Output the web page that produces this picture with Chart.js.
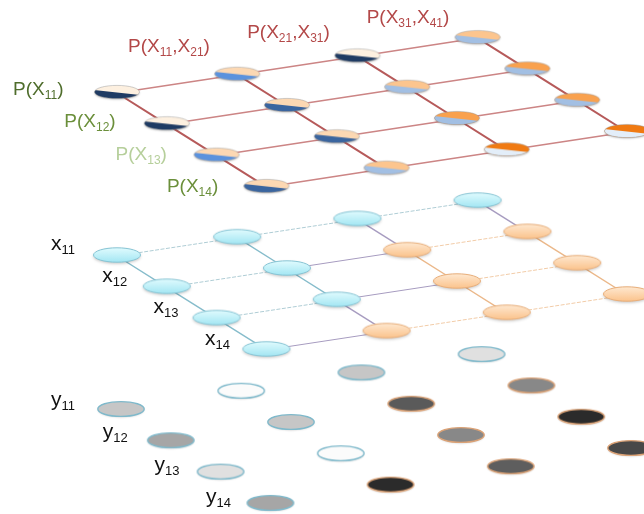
<!DOCTYPE html>
<html><head><meta charset="utf-8">
<script src="https://cdn.jsdelivr.net/npm/chart.js@4"></script>
<style>html,body{margin:0;padding:0;background:#fff;overflow:hidden}canvas{display:block}</style>
</head><body>
<canvas id="c" width="644" height="514"></canvas>
<script>
// ================= DATA =================
const rowIds = ['11', '12', '13', '14'];
const pairIds = [['11', '21'], ['21', '31'], ['31', '41']];
// top layer: shade level of upper (orange) half and lower (blue) half of each node
const topOrangeLevel = [
  [0, 1, 0, 2],
  [0, 1, 2, 3],
  [1, 1, 3, 3],
  [1, 2, 4, 4]];
const topBlueLevel = [
  [0, 2, 0, 3],
  [0, 1, 3, 3],
  [2, 1, 3, 3],
  [1, 3, 4, 4]];
// middle layer: hidden class of each node (0 = cyan, 1 = orange)
const midClass = [
  [0, 0, 0, 0],
  [0, 0, 1, 1],
  [0, 0, 1, 1],
  [0, 1, 1, 1]];
// bottom layer: grey value of each observation
const bottomGrey = [
  [198, 251, 198, 224],
  [166, 198, 90, 136],
  [224, 251, 136, 43],
  [166, 43, 94, 72]];

// ================= LAYOUT / STYLE =================
const STEP_COL = {x: 120.2, y: -18.3};
const STEP_ROW = {x: 49.8, y: 31.3};
const ORIGIN = {top: {x: 117, y: 93}, mid: {x: 117, y: 256}, bot: {x: 121, y: 410}};
const ORANGES = ['#fdf0e0', '#fcd8b3', '#fcc58e', '#f9a14e', '#f07a12'];
const BLUES = ['#1f3b63', '#3a659f', '#5b92dd', '#a2bfe3', '#e3eef9'];
const FONT = '"Liberation Sans", Arial, sans-serif';

const NR = rowIds.length, NC = topOrangeLevel[0].length;
function pos(layer, r, c) {
  const o = ORIGIN[layer];
  return {x: o.x + c * STEP_COL.x + r * STEP_ROW.x, y: o.y + c * STEP_COL.y + r * STEP_ROW.y};
}

function mkCanvas(w, h) { const cv = document.createElement('canvas'); cv.width = w; cv.height = h; return cv; }
function ellipsePath(g, cx, cy, rx, ry) { g.beginPath(); g.ellipse(cx, cy, rx, ry, 0, 0, Math.PI * 2); }

function topImage(oL, bL) {
  const W = 54, H = 20, cx = W / 2, cy = H / 2 - 1, rx = 22.5, ry = 6.6;
  const cv = mkCanvas(W, H), g = cv.getContext('2d');
  g.save();
  g.shadowColor = 'rgba(0,0,0,0.25)'; g.shadowBlur = 2; g.shadowOffsetY = 1;
  ellipsePath(g, cx, cy, rx, ry); g.fillStyle = ORANGES[oL]; g.fill();
  g.restore();
  g.save();
  ellipsePath(g, cx, cy, rx, ry); g.clip();
  g.beginPath();
  g.moveTo(cx - rx - 1, cy - 0.3 * ry);
  g.lineTo(cx + rx + 1, cy + 0.45 * ry);
  g.lineTo(cx + rx + 1, cy + ry + 2);
  g.lineTo(cx - rx - 1, cy + ry + 2);
  g.closePath();
  g.fillStyle = BLUES[bL]; g.fill();
  g.restore();
  ellipsePath(g, cx, cy, rx, ry); g.strokeStyle = 'rgba(150,150,150,0.55)'; g.lineWidth = 0.8; g.stroke();
  return cv;
}
function midImage(cls) {
  const W = 56, H = 24, cx = W / 2, cy = H / 2 - 1, rx = 23.5, ry = 7.2;
  const cv = mkCanvas(W, H), g = cv.getContext('2d');
  const grad = g.createLinearGradient(0, cy - ry, 0, cy + ry);
  if (cls === 0) { grad.addColorStop(0, '#e0fbfe'); grad.addColorStop(1, '#a3e6f3'); }
  else { grad.addColorStop(0, '#fee8d0'); grad.addColorStop(1, '#fbc38c'); }
  g.save();
  g.shadowColor = 'rgba(0,0,0,0.22)'; g.shadowBlur = 3; g.shadowOffsetY = 1.5;
  ellipsePath(g, cx, cy, rx, ry); g.fillStyle = grad; g.fill();
  g.restore();
  ellipsePath(g, cx, cy, rx, ry);
  g.strokeStyle = cls === 0 ? '#86c4d4' : '#e8ae7a'; g.lineWidth = 1; g.stroke();
  return cv;
}
function botImage(grey, cls) {
  const W = 56, H = 24, cx = W / 2, cy = H / 2 - 1, rx = 23.2, ry = 7.4;
  const cv = mkCanvas(W, H), g = cv.getContext('2d');
  g.save();
  g.shadowColor = 'rgba(0,0,0,0.18)'; g.shadowBlur = 2; g.shadowOffsetY = 1;
  ellipsePath(g, cx, cy, rx, ry); g.fillStyle = `rgb(${grey},${grey},${grey})`; g.fill();
  g.restore();
  ellipsePath(g, cx, cy, rx, ry);
  g.strokeStyle = cls === 0 ? '#7fb9cb' : '#dba276'; g.lineWidth = 1.4; g.stroke();
  return cv;
}

// ================= DATASETS =================
const datasets = [];
const nodes = {top: [], mid: [], bot: []}, images = {top: [], mid: [], bot: []};
for (let r = 0; r < NR; r++) for (let c = 0; c < NC; c++) {
  nodes.top.push(pos('top', r, c)); images.top.push(topImage(topOrangeLevel[r][c], topBlueLevel[r][c]));
  nodes.mid.push(pos('mid', r, c)); images.mid.push(midImage(midClass[r][c]));
  nodes.bot.push(pos('bot', r, c)); images.bot.push(botImage(bottomGrey[r][c], midClass[r][c]));
}
// top layer edges
for (let c = 0; c < NC; c++) {
  const pts = []; for (let r = 0; r < NR; r++) pts.push(pos('top', r, c));
  datasets.push({type: 'line', data: pts, borderColor: '#b65a5a', borderWidth: 2, pointRadius: 0, order: 3});
}
for (let r = 0; r < NR; r++) {
  const pts = []; for (let c = 0; c < NC; c++) pts.push(pos('top', r, c));
  datasets.push({type: 'line', data: pts, borderColor: '#cc8585', borderWidth: 1.5, pointRadius: 0, order: 3});
}
// middle layer edges, colored by the classes they join
function midSegColor(cls, ctx, strong) {
  const a = cls[ctx.p0DataIndex], b = cls[ctx.p1DataIndex];
  if (a !== b) return '#a79cc0';
  if (a === 0) return strong ? '#86bccb' : '#afcdd5';
  return strong ? '#ebb88a' : '#f2cca8';
}
for (let c = 0; c < NC; c++) {
  const pts = [], cls = [];
  for (let r = 0; r < NR; r++) { pts.push(pos('mid', r, c)); cls.push(midClass[r][c]); }
  datasets.push({type: 'line', data: pts, borderWidth: 1.4, pointRadius: 0, order: 3,
    segment: {borderColor: ctx => midSegColor(cls, ctx, true)}});
}
for (let r = 0; r < NR; r++) {
  const pts = [], cls = [];
  for (let c = 0; c < NC; c++) { pts.push(pos('mid', r, c)); cls.push(midClass[r][c]); }
  datasets.push({type: 'line', data: pts, borderWidth: 1, pointRadius: 0, order: 3,
    segment: {borderColor: ctx => midSegColor(cls, ctx, false),
              borderDash: ctx => (cls[ctx.p0DataIndex] === cls[ctx.p1DataIndex] ? [4, 1.5] : [])}});
}
// nodes
['top', 'mid', 'bot'].forEach(layer => {
  datasets.push({type: 'scatter', data: nodes[layer], order: 1, pointRadius: 12,
    pointStyle: ctx => (ctx.dataIndex === undefined ? 'circle' : images[layer][ctx.dataIndex])});
});

// ================= LABELS =================
function drawParts(ctx, parts, x, y, color, size, subSize, align) {
  const measure = () => parts.reduce((w, p) => { ctx.font = `${p[1] ? subSize : size}px ${FONT}`; return w + ctx.measureText(p[0]).width; }, 0);
  let cx = align === 'center' ? x - measure() / 2 : x;
  ctx.fillStyle = color; ctx.textBaseline = 'alphabetic'; ctx.textAlign = 'left';
  parts.forEach(p => {
    ctx.font = `${p[1] ? subSize : size}px ${FONT}`;
    ctx.fillText(p[0], cx, y + (p[1] ? 4 : 0));
    cx += ctx.measureText(p[0]).width;
  });
}
const labelPlugin = {
  id: 'labels',
  afterDatasetsDraw(chart) {
    const ctx = chart.ctx; ctx.save();
    const topColors = ['#4f6d2c', '#6b8f3b', '#b6cf9b', '#6b8f3b'];
    rowIds.forEach((id, r) => {
      drawParts(ctx, [['P(X', 0], [id, 1], [')', 0]], 13 + r * 51.3, 95 + r * 32.3, topColors[r], 19, 12);
      drawParts(ctx, [['x', 0], [id, 1]], 51 + r * 51.3, 250 + r * 31.7, '#111', 21, 13);
      drawParts(ctx, [['y', 0], [id, 1]], 51 + r * 51.7, 406 + r * 32.3, '#111', 21, 13);
    });
    pairIds.forEach((p, i) => {
      drawParts(ctx, [['P(X', 0], [p[0], 1], [',X', 0], [p[1], 1], [')', 0]], 169 + i * 119.5, 52 - i * 14.5, '#b34848', 19, 12, 'center');
    });
    ctx.restore();
  }
};

new Chart(document.getElementById('c'), {
  data: {datasets},
  options: {
    responsive: false, animation: false, events: [],
    layout: {padding: 0, autoPadding: false},
    plugins: {legend: {display: false}, tooltip: {enabled: false}},
    scales: {
      x: {type: 'linear', min: 0, max: 644, display: false},
      y: {type: 'linear', min: 0, max: 514, reverse: true, display: false}
    }
  },
  plugins: [labelPlugin]
});
</script>
</body></html>
